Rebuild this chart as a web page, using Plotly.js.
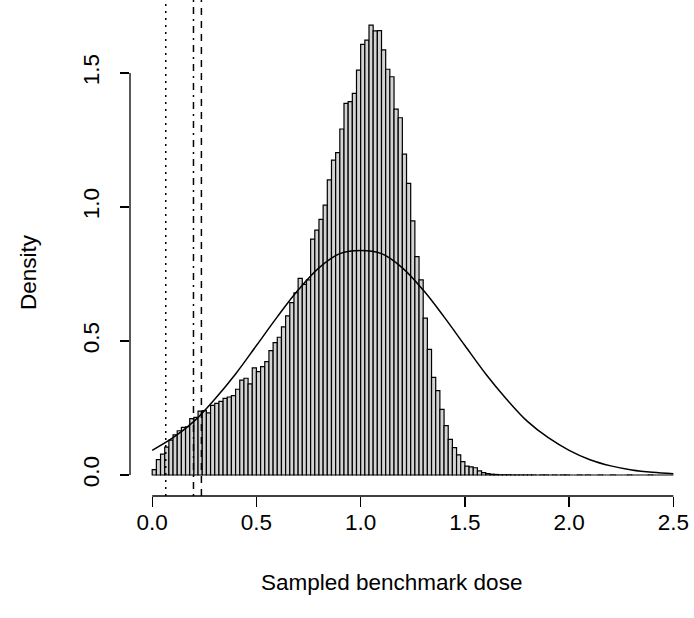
<!DOCTYPE html>
<html>
<head>
<meta charset="utf-8">
<script src="https://cdn.plot.ly/plotly-3.0.1.min.js"></script>
<style>
  html, body { margin: 0; padding: 0; background: #ffffff; }
  #chart { width: 694px; height: 618px; }
</style>
</head>
<body>
<div id="chart"></div>
<script>
// Histogram: bin breaks start at 0 with width 0.02; densities per bin
const binStart = 0;
const binWidth = 0.02;
const densities = [
  0.020, 0.057, 0.078, 0.104, 0.130, 0.150, 0.165, 0.178, 0.180, 0.210,
  0.215, 0.238, 0.240, 0.232, 0.260, 0.267, 0.275, 0.286, 0.291, 0.296,
  0.320, 0.354, 0.361, 0.340, 0.400, 0.386, 0.404, 0.423, 0.464, 0.494,
  0.514, 0.553, 0.594, 0.643, 0.680, 0.734, 0.711, 0.728, 0.880, 0.914,
  0.954, 1.007, 1.101, 1.175, 1.203, 1.291, 1.387, 1.393, 1.424, 1.511,
  1.607, 1.623, 1.679, 1.657, 1.658, 1.586, 1.514, 1.486, 1.365, 1.333,
  1.197, 1.088, 0.948, 0.815, 0.728, 0.585, 0.469, 0.364, 0.315, 0.245,
  0.184, 0.133, 0.102, 0.075, 0.050, 0.033, 0.030, 0.027, 0.015, 0.009,
  0.005, 0.003, 0.002, 0.001, 0.001, 0.001, 0.0005, 0.0005, 0.0005, 0.0005,
  0.0005, 0.0005, 0, 0.0005, 0.0005, 0, 0.0005, 0, 0.0005, 0.0005,
  0, 0, 0.0005, 0, 0.0005, 0, 0, 0.0005, 0, 0,
  0.0005, 0, 0, 0, 0.0005, 0, 0, 0, 0, 0.0005,
  0, 0, 0, 0, 0
];

// Fitted density curve
const curveX = [0.0, 0.1, 0.2, 0.3, 0.4, 0.5, 0.6, 0.7, 0.8, 0.9, 1.0, 1.1, 1.2,
                1.3, 1.4, 1.5, 1.6, 1.7, 1.8, 1.9, 2.0, 2.1, 2.2, 2.3, 2.4, 2.5];
const curveY = [0.092, 0.139, 0.200, 0.283, 0.377, 0.483, 0.590, 0.690, 0.773, 0.826, 0.838, 0.826, 0.773,
                0.690, 0.590, 0.483, 0.377, 0.283, 0.200, 0.139, 0.092, 0.057, 0.034, 0.019, 0.010, 0.005];

// Vertical reference lines
const refLineX = [0.065, 0.198, 0.236];
const refLineDash = ["2px,5px", "2px,5px,7px,5px", "7px,6px"];

// Axis ticks
const xTickVals = [0, 0.5, 1.0, 1.5, 2.0, 2.5];
const xTickText = ["0.0", "0.5", "1.0", "1.5", "2.0", "2.5"];
const yTickVals = [0, 0.5, 1.0, 1.5];
const yTickText = ["0.0", "0.5", "1.0", "1.5"];

const xLabel = "Sampled benchmark dose";
const yLabel = "Density";

const FONT = "Liberation Sans, Arial, Helvetica, sans-serif";
const FS = 22.5;

const binCenters = densities.map((_, i) => binStart + (i + 0.5) * binWidth);

const traces = [
  {
    type: "bar",
    x: binCenters,
    y: densities,
    width: binWidth,
    marker: { color: "#d3d3d3", line: { color: "#000000", width: 1.2 } },
    hoverinfo: "skip"
  },
  {
    type: "scatter",
    mode: "lines",
    x: curveX,
    y: curveY,
    line: { color: "#000000", width: 1.5, shape: "spline", smoothing: 1 },
    hoverinfo: "skip"
  }
];

const shapes = refLineX.map((v, i) => ({
  type: "line", xref: "x", yref: "paper",
  x0: v, x1: v, y0: 0, y1: 1,
  line: { color: "#000000", width: 1.5, dash: refLineDash[i] }
}));
// axis lines spanning first to last tick (R style)
shapes.push({
  type: "line", xref: "x", yref: "paper",
  x0: xTickVals[0], x1: xTickVals[xTickVals.length - 1], y0: 0, y1: 0,
  line: { color: "#000000", width: 1.3 }
});
shapes.push({
  type: "line", xref: "paper", yref: "y",
  x0: 0, x1: 0, y0: yTickVals[0], y1: yTickVals[yTickVals.length - 1],
  line: { color: "#000000", width: 1.3 }
});

const layout = {
  width: 694,
  height: 618,
  autosize: false,
  paper_bgcolor: "#ffffff",
  plot_bgcolor: "#ffffff",
  margin: { l: 130, r: 0, t: 0, b: 122, pad: 0 },
  showlegend: false,
  bargap: 0,
  font: { family: FONT, size: FS, color: "#000000" },
  xaxis: {
    range: [-0.1065, 2.599],
    tickmode: "array",
    tickvals: xTickVals,
    ticktext: xTickText,
    ticks: "outside",
    ticklen: 10,
    tickwidth: 1.3,
    tickcolor: "#000000",
    showline: false,
    showgrid: false,
    zeroline: false,
    ticklabelstandoff: -4,
    tickfont: { family: FONT, size: FS, color: "#000000" }
  },
  yaxis: {
    range: [-0.0784, 1.7724],
    tickmode: "array",
    tickvals: yTickVals,
    ticktext: yTickText,
    ticks: "outside",
    ticklen: 9,
    tickwidth: 1.3,
    tickcolor: "#000000",
    tickangle: -90,
    showline: false,
    showgrid: false,
    zeroline: false,
    ticklabelstandoff: 12,
    tickfont: { family: FONT, size: FS, color: "#000000" }
  },
  shapes: shapes,
  annotations: [
    {
      text: xLabel, xref: "paper", yref: "paper",
      x: 0.4645, y: -0.1754, xanchor: "center", yanchor: "middle",
      showarrow: false, font: { family: FONT, size: FS, color: "#000000" }
    },
    {
      text: yLabel, xref: "paper", yref: "paper",
      x: -0.1809, y: 0.4516, xanchor: "center", yanchor: "middle",
      textangle: -90,
      showarrow: false, font: { family: FONT, size: FS, color: "#000000" }
    }
  ]
};

Plotly.newPlot("chart", traces, layout, { displayModeBar: false, staticPlot: true });
</script>
</body>
</html>
